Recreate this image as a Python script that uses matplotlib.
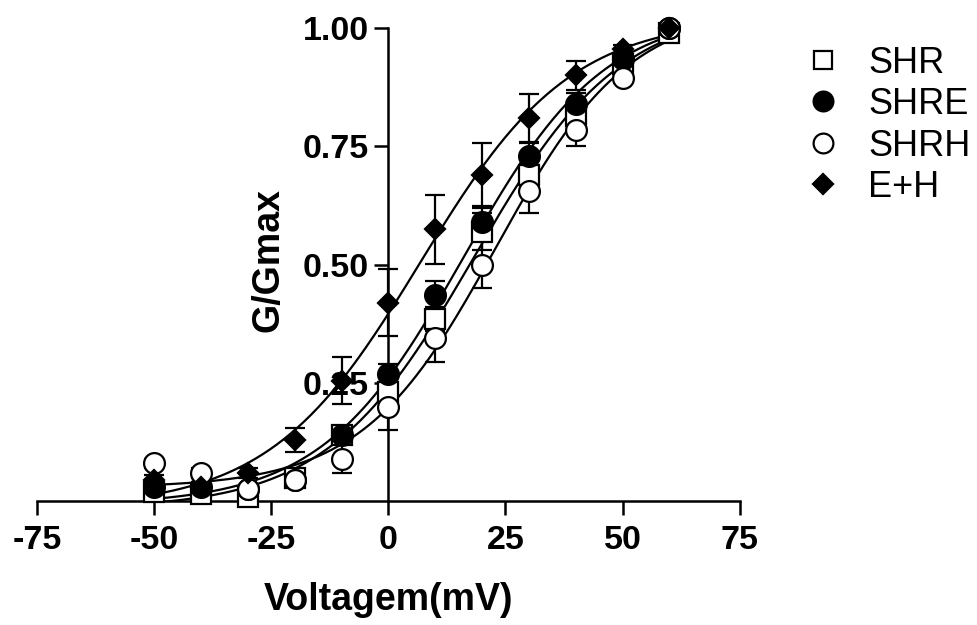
import numpy as np
import matplotlib
matplotlib.use("Agg")
import matplotlib.pyplot as plt

plt.rcParams['font.family'] = ['Liberation Sans', 'DejaVu Sans']

# normalised conductance vs test potential, mean +/- SEM
volts = [-50, -40, -30, -20, -10, 0, 10, 20, 30, 40, 50, 60]

shr = [0.02, 0.015, 0.01, 0.05, 0.14, 0.23, 0.385, 0.57, 0.69, 0.815, 0.925, 0.99]
shr_err = [0.01, 0.01, 0.01, 0.01, 0.02, 0.03, 0.025, 0.04, 0.02, 0.03, 0.02, 0.0]

shre = [0.03, 0.03, 0.025, 0.045, 0.14, 0.27, 0.435, 0.59, 0.73, 0.84, 0.935, 1.0]
shre_err = [0.01, 0.01, 0.01, 0.01, 0.02, 0.02, 0.03, 0.03, 0.027, 0.023, 0.01, 0.0]

shrh = [0.08, 0.06, 0.025, 0.045, 0.09, 0.2, 0.345, 0.5, 0.655, 0.785, 0.895, 1.0]
shrh_err = [0.01, 0.01, 0.01, 0.01, 0.03, 0.05, 0.05, 0.05, 0.045, 0.035, 0.01, 0.0]

eh = [0.045, 0.03, 0.06, 0.13, 0.255, 0.42, 0.575, 0.69, 0.81, 0.90, 0.955, 1.0]
eh_err = [0.01, 0.01, 0.01, 0.025, 0.05, 0.07, 0.073, 0.067, 0.05, 0.03, 0.01, 0.0]

labels = ['SHR', 'SHRE', 'SHRH', 'E+H']
xticks = [-75, -50, -25, 0, 25, 50, 75]
yticks = [0.25, 0.50, 0.75, 1.00]


def boltzmann_fit(v, g):
    # grid over V1/2 and slope, bottom/top solved linearly
    v = np.asarray(v, float)
    g = np.asarray(g, float)
    best = None
    for vh in np.arange(-20, 50, 0.25):
        for k in np.arange(3, 30, 0.1):
            s = 1.0 / (1.0 + np.exp((vh - v) / k))
            A = np.column_stack([1 - s, s])
            coef, *_ = np.linalg.lstsq(A, g, rcond=None)
            r = np.sum((A @ coef - g) ** 2)
            if best is None or r < best[0]:
                best = (r, vh, k, coef[0], coef[1])
    return best[1:]


def boltzmann(v, vh, k, bot, top):
    return bot + (top - bot) / (1.0 + np.exp((vh - v) / k))


fig = plt.figure(figsize=(9.77, 6.25), dpi=100)
ax = fig.add_axes([0.038, 0.198, 0.719, 0.757])

series = [
    (shr, shr_err, dict(marker='s', mfc='white', ms=14)),
    (shre, shre_err, dict(marker='o', mfc='black', ms=15)),
    (shrh, shrh_err, dict(marker='o', mfc='white', ms=15)),
    (eh, eh_err, dict(marker='D', mfc='black', ms=10.5)),
]

vv = np.linspace(-50, 60, 300)
handles = []
for (y, e, style), lab in zip(series, labels):
    p = boltzmann_fit(volts, y)
    ax.plot(vv, boltzmann(vv, *p), color='black', lw=1.6, zorder=2)
    ax.errorbar(volts, y, yerr=e, fmt='none', ecolor='black', elinewidth=1.6,
                capsize=7, capthick=1.6, zorder=3, clip_on=False)
    h, = ax.plot(volts, y, linestyle='none', color='black', mec='black',
                 mew=1.6, zorder=4, clip_on=False, label=lab, **style)
    handles.append(h)

ax.set_xlim(-75, 75)
ax.set_ylim(0, 1.0)
ax.spines['left'].set_position(('data', 0))
ax.spines['top'].set_visible(False)
ax.spines['right'].set_visible(False)
for sp in ['left', 'bottom']:
    ax.spines[sp].set_linewidth(1.8)

ax.set_xticks(xticks)
ax.set_xticklabels([str(t) for t in xticks])
ax.set_yticks(yticks)
ax.set_yticklabels(['%.2f' % t for t in yticks])
ax.tick_params(direction='out', length=10, width=1.8, labelsize=24.5)
ax.tick_params(axis='x', pad=7)
ax.tick_params(axis='y', pad=4)
for t in ax.get_xticklabels() + ax.get_yticklabels():
    t.set_fontweight('bold')

ax.set_xlabel('Voltagem(mV)', fontsize=27, fontweight='bold', labelpad=19)
ax.set_ylabel('G/Gmax', fontsize=27, fontweight='bold')
ax.yaxis.set_label_coords(0.355, 0.51)

leg = fig.legend(handles=handles, loc='upper left', bbox_to_anchor=(0.8275, 0.927),
                 frameon=False, fontsize=26, handlelength=0.8, handletextpad=0.85,
                 labelspacing=0.18, borderpad=0, borderaxespad=0, markerscale=0.95)

fig.savefig('out.png', dpi=100)
